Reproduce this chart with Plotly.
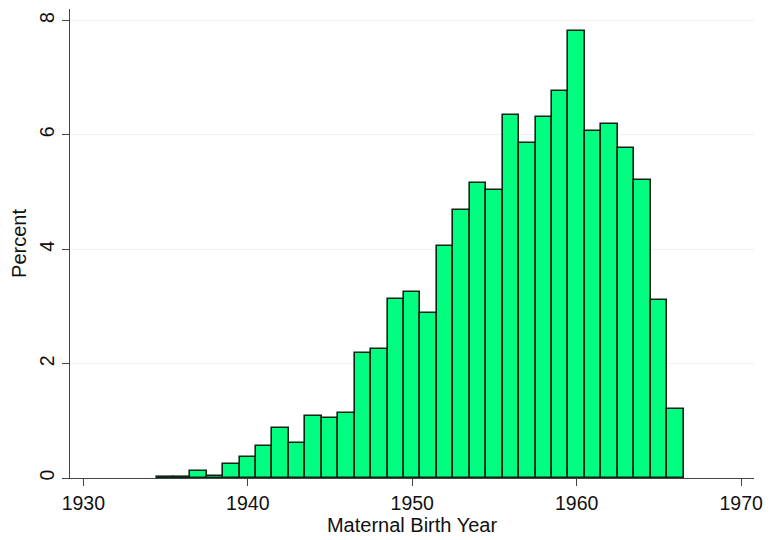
import plotly.graph_objects as go

years = list(range(1935, 1967))
percent = [0.02, 0.02, 0.13, 0.035, 0.25, 0.37, 0.555, 0.87, 0.61, 1.08,
           1.05, 1.14, 2.19, 2.26, 3.13, 3.26, 2.88, 4.05, 4.69, 5.15,
           5.03, 6.34, 5.86, 6.31, 6.77, 7.82, 6.07, 6.19, 5.77, 5.21,
           3.11, 1.20]
x_ticks = [1930, 1940, 1950, 1960, 1970]
y_ticks = [0, 2, 4, 6, 8]

font = "Liberation Sans, Arial, sans-serif"

fig = go.Figure(go.Bar(
    x=years, y=percent, width=1,
    marker=dict(color="#00FF80", line=dict(color="#0c2414", width=1.6)),
))

fig.update_layout(
    width=772, height=540,
    margin=dict(l=70, r=10, t=9, b=53),
    paper_bgcolor="white", plot_bgcolor="white",
    showlegend=False, bargap=0,
    font=dict(family=font, size=19, color="#111"),
)
fig.update_xaxes(
    range=[1929.19, 1970.78], tickvals=x_ticks,
    tickfont=dict(size=19.5),
    ticks="outside", ticklen=7, tickcolor="#444", tickwidth=1.3,
    showline=True, linecolor="#444", linewidth=1.3, showgrid=False,
    zeroline=False,
    title=dict(text="Maternal Birth Year", font=dict(size=20), standoff=3),
)
fig.update_yaxes(
    range=[0, 8.2], tickvals=y_ticks, tickangle=-90,
    tickfont=dict(size=19.5),
    ticks="outside", ticklen=7, tickcolor="#444", tickwidth=1.3,
    showline=True, linecolor="#444", linewidth=1.3,
    showgrid=True, gridcolor="#EAF2F3", gridwidth=1.3, zeroline=False,
    title=dict(text="Percent", font=dict(size=20), standoff=4),
)

fig.write_html("out.html")
